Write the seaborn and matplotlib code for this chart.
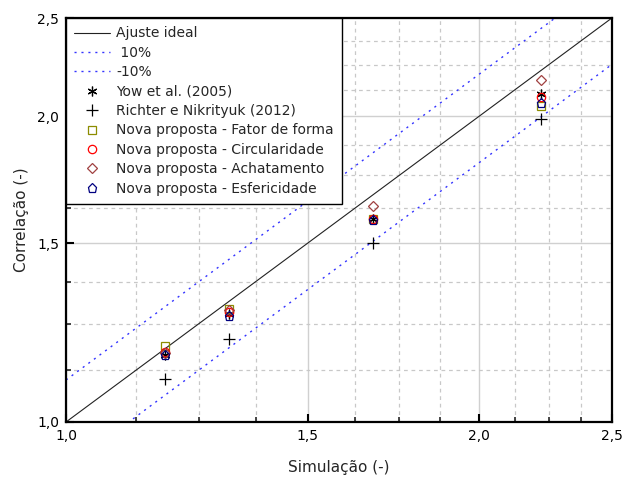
import numpy as np
import pandas as pd
import matplotlib
matplotlib.use("Agg")
import matplotlib.pyplot as plt
import seaborn as sns
from matplotlib.ticker import FixedLocator, FuncFormatter, NullFormatter

# ---- data ----
sim = [1.18, 1.315, 1.675, 2.22]
yow = [1.163, 1.278, 1.585, 2.105]
richter = [1.102, 1.207, 1.502, 1.987]
fator_forma = [1.188, 1.293, 1.585, 2.050]
circularidade = [1.172, 1.283, 1.585, 2.088]
achatamento = [1.170, 1.290, 1.632, 2.172]
esfericidade = [1.164, 1.272, 1.580, 2.060]

major_ticks = [1.0, 1.5, 2.0, 2.5]
minor_ticks = [1.125, 1.25, 1.375, 1.625, 1.75, 1.875, 2.125, 2.25, 2.375]
axis_lim = [1.0, 2.5]
tol = 0.10

sns.set_style("white")
plt.rcParams['font.family'] = ['DejaVu Sans']

fig = plt.figure(figsize=(6.23, 4.82), dpi=100)
ax = fig.add_axes([0.106, 0.1245, 0.876, 0.838])

ref = pd.DataFrame({"x": axis_lim})
ref["ideal"] = ref["x"]
ref["up"] = ref["x"] * (1 + tol)
ref["down"] = ref["x"] * (1 - tol)

sns.lineplot(data=ref, x="x", y="ideal", ax=ax, color="#222222", lw=0.8,
             label="Ajuste ideal")
sns.lineplot(data=ref, x="x", y="up", ax=ax, color="#3333ff", lw=1.0,
             linestyle=(0, (1.5, 3.5)), label=" 10%")
sns.lineplot(data=ref, x="x", y="down", ax=ax, color="#3333ff", lw=1.0,
             linestyle=(0, (1.5, 3.5)), label="-10%")

series = [
    ("Yow et al. (2005)", yow, (6, 2, 0), "black", 7),
    ("Richter e Nikrityuk (2012)", richter, "+", "black", 8),
    ("Nova proposta - Fator de forma", fator_forma, "s", "#8c8c00", 5.5),
    ("Nova proposta - Circularidade", circularidade, "o", "#ff0000", 6),
    ("Nova proposta - Achatamento", achatamento, "D", "#a04040", 5.5),
    ("Nova proposta - Esfericidade", esfericidade, "p", "#000080", 6.5),
]
for name, vals, mk, col, ms in series:
    df = pd.DataFrame({"x": sim, "y": vals})
    sns.lineplot(data=df, x="x", y="y", ax=ax, linestyle="", marker=mk,
                 markersize=ms, color=col, markerfacecolor="none",
                 markeredgecolor=col, markeredgewidth=0.9,
                 estimator=None, label=name)

ax.set_xscale("log")
ax.set_yscale("log")
ax.set_xlim(axis_lim)
ax.set_ylim(axis_lim)

fmt = FuncFormatter(lambda v, p: f"{v:.1f}".replace(".", ","))
for axis in (ax.xaxis, ax.yaxis):
    axis.set_major_locator(FixedLocator(major_ticks))
    axis.set_minor_locator(FixedLocator(minor_ticks))
    axis.set_major_formatter(fmt)
    axis.set_minor_formatter(NullFormatter())

ax.grid(True, which="major", color="#d0d0d0", lw=1.0, linestyle="-")
ax.grid(True, which="minor", color="#c8c8c8", lw=0.9, linestyle=(0, (3, 3)))
ax.set_axisbelow(True)

ax.tick_params(which="major", direction="in", length=6, width=1.5,
               labelsize=10, colors="black", pad=5, bottom=True, left=True)
ax.tick_params(which="minor", direction="in", length=3.5, width=1.2,
               bottom=True, left=True)
for s in ax.spines.values():
    s.set_color("black")
    s.set_linewidth(1.6)

ax.set_xlabel("Simulação (-)", fontsize=11, labelpad=12)
ax.set_ylabel("Correlação (-)", fontsize=11, labelpad=6)

leg = ax.legend(loc="upper left", borderaxespad=0.0, fontsize=10,
                frameon=True, fancybox=False, framealpha=1,
                edgecolor="black", handlelength=2.6, handletextpad=0.4,
                labelspacing=0.39, borderpad=0.6)
leg.get_frame().set_linewidth(1.0)

fig.savefig("out.png", dpi=100)
